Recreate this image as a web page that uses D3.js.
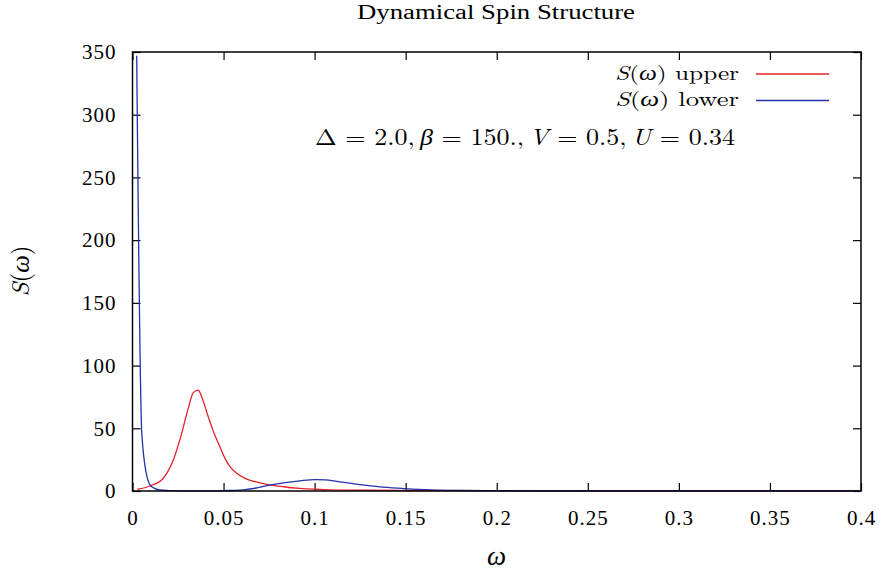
<!DOCTYPE html>
<html>
<head>
<meta charset="utf-8">
<script src="https://cdn.jsdelivr.net/npm/d3@7"></script>
<style>
  body { margin: 0; background: #fff; }
</style>
</head>
<body>
<svg id="viz"></svg>
<script>
const width = 883, height = 574;
const textFont = "Liberation Serif";
const mathFont = "Latin Modern Roman";

// S(w) upper
const omegaUpper = [0.0027, 0.0096, 0.0169, 0.0224, 0.027, 0.0306, 0.0334, 0.0361, 0.038, 0.0416, 0.0448, 0.048, 0.0508, 0.0535, 0.0572, 0.0618, 0.0673, 0.0737, 0.0828, 0.092, 0.1002, 0.1085, 0.125, 0.15, 0.2, 0.25, 0.3, 0.35, 0.4];
const sUpper     = [1.4, 4, 10.2, 24.7, 46, 65.9, 78.4, 80.5, 75.2, 59.2, 46, 35.3, 26, 19.4, 14.1, 10.1, 7.4, 5.3, 3.4, 2.1, 1.4, 0.9, 0.6, 0.4, 0.25, 0.2, 0.15, 0.1, 0.1];

// S(w) lower
const omegaLower = [0.0023, 0.0051, 0.0083, 0.0107, 0.015, 0.02, 0.026, 0.035, 0.045, 0.0535, 0.0618, 0.0673, 0.0746, 0.0828, 0.092, 0.1002, 0.106, 0.1121, 0.1249, 0.1375, 0.1496, 0.1634, 0.18, 0.2, 0.25, 0.3, 0.4];
const sLower     = [347, 46, 9.5, 3.2, 0.8, 0.3, 0.15, 0.1, 0.15, 0.4, 1.1, 2.2, 4.4, 6.4, 8.1, 9.1, 8.8, 7.7, 5, 3.1, 1.9, 0.9, 0.45, 0.25, 0.1, 0.06, 0.03];

const xTicks = [0, 0.05, 0.1, 0.15, 0.2, 0.25, 0.3, 0.35, 0.4];
const yTicks = [0, 50, 100, 150, 200, 250, 300, 350];

const margin = {top: 52, right: 22, bottom: 83, left: 132.5};

const svg = d3.select("#viz")
  .attr("width", width)
  .attr("height", height);

const x = d3.scaleLinear().domain([0, 0.4]).range([margin.left, width - margin.right]);
const y = d3.scaleLinear().domain([0, 350]).range([height - margin.bottom, margin.top]);

// axes with inner ticks, mirrored on all sides
function styleAxis(g) {
  g.attr("font-family", textFont).attr("font-size", 21);
  g.select(".domain").remove();
  g.selectAll(".tick line").attr("stroke", "#000").attr("stroke-width", 1.2);
  g.selectAll(".tick text").attr("fill", "#000").attr("letter-spacing", 1);
}

svg.append("g")
  .attr("transform", `translate(0, ${y(0)})`)
  .call(d3.axisBottom(x).tickValues(xTicks).tickSize(-8).tickPadding(19).tickFormat(d => d === 0 ? "0" : String(d)))
  .call(styleAxis);

svg.append("g")
  .attr("transform", `translate(0, ${y(350)})`)
  .call(d3.axisTop(x).tickValues(xTicks).tickSize(-8).tickFormat(""))
  .call(styleAxis);

svg.append("g")
  .attr("transform", `translate(${x(0)}, 0)`)
  .call(d3.axisLeft(y).tickValues(yTicks).tickSize(-8).tickPadding(16))
  .call(styleAxis);

svg.append("g")
  .attr("transform", `translate(${x(0.4)}, 0)`)
  .call(d3.axisRight(y).tickValues(yTicks).tickSize(-8).tickFormat(""))
  .call(styleAxis);

// curves
const line = d3.line().x(d => x(d[0])).y(d => y(d[1])).curve(d3.curveMonotoneX);

svg.append("path")
  .datum(d3.zip(omegaUpper, sUpper))
  .attr("fill", "none")
  .attr("stroke", "#e8202a")
  .attr("stroke-width", 1.3)
  .attr("d", line);

svg.append("path")
  .datum(d3.zip(omegaLower, sLower))
  .attr("fill", "none")
  .attr("stroke", "#2233aa")
  .attr("stroke-width", 1.3)
  .attr("d", line);

// frame
svg.append("rect")
  .attr("x", x(0)).attr("y", y(350))
  .attr("width", x(0.4) - x(0)).attr("height", y(0) - y(350))
  .attr("fill", "none").attr("stroke", "#000").attr("stroke-width", 1.5);

function addText(opts) {
  return svg.append("text")
    .attr("font-family", opts.font || textFont)
    .attr("fill", "#000")
    .attr("font-size", opts.size)
    .attr("text-anchor", opts.anchor || "middle")
    .attr("x", opts.x).attr("y", opts.y);
}

function mathParts(t, parts) {
  parts.forEach(([s, it]) => t.append("tspan").attr("font-style", it ? "italic" : "normal").text(s));
  return t;
}

// title
addText({x: 496, y: 19, size: 20})
  .attr("textLength", 278).attr("lengthAdjust", "spacingAndGlyphs")
  .text("Dynamical Spin Structure");

// axis labels
addText({x: 496.5, y: 565, size: 27, font: mathFont})
  .attr("font-style", "italic")
  .text("ω");

mathParts(addText({x: 0, y: 0, size: 25, font: mathFont})
  .attr("transform", "translate(29, 271) rotate(-90)"),
  [["S", true], ["(", false], ["ω", true], [")", false]]);

// legend
const legend = [
  {label: "upper", color: "#e8202a", y: 74},
  {label: "lower", color: "#2233aa", y: 100.5}
];
legend.forEach(l => {
  const t = addText({x: 739, y: l.y + 5.5, size: 20, anchor: "end", font: mathFont})
    .attr("textLength", 124).attr("lengthAdjust", "spacingAndGlyphs");
  mathParts(t, [["S", true], ["(", false], ["ω", true], [") " + l.label, false]]);
  svg.append("line")
    .attr("x1", 756).attr("x2", 829)
    .attr("y1", l.y).attr("y2", l.y)
    .attr("stroke", l.color).attr("stroke-width", 1.3);
});

// parameter label
const params = addText({x: 525, y: 145, size: 23, font: mathFont})
  .attr("textLength", 420).attr("lengthAdjust", "spacingAndGlyphs");
mathParts(params, [["Δ\u2004=\u20042.0,\u2009", false], ["β", true], ["\u2004=\u2004150.,\u2009", false], ["V", true], ["\u2004=\u20040.5,\u2009", false], ["U", true], ["\u2004=\u20040.34", false]]);
</script>
</body>
</html>
